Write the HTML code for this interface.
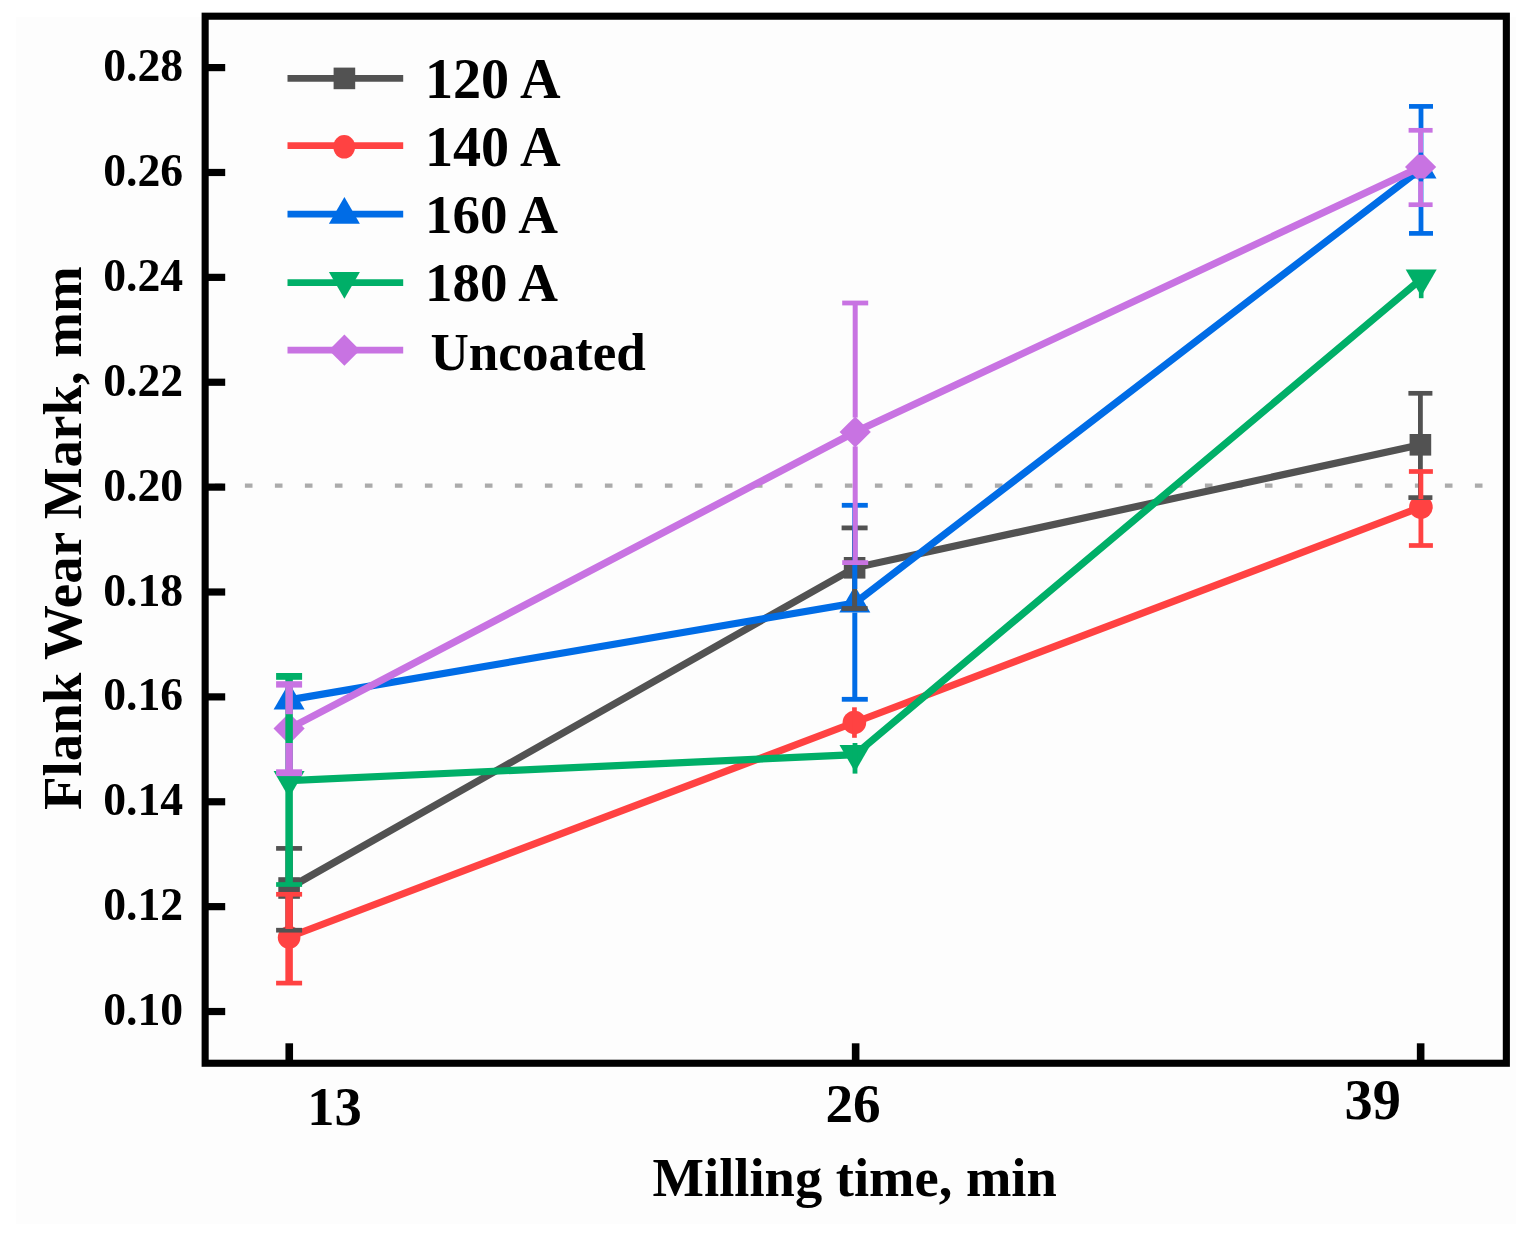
<!DOCTYPE html>
<html><head><meta charset="utf-8"><title>Flank Wear Mark vs Milling time</title>
<style>html,body{margin:0;padding:0;background:#fff;} body{width:1529px;height:1238px;overflow:hidden;} svg{display:block;}</style>
</head><body>
<svg width="1529" height="1238" viewBox="0 0 1529 1238">
<rect x="0" y="0" width="1529" height="1238" fill="#ffffff"/>
<rect x="16" y="17" width="1500" height="1207" fill="#fdfdfd"/>
<line x1="214.9" y1="485.7" x2="1500" y2="485.7" stroke="#ababab" stroke-width="4.3" stroke-dasharray="7.6 22.4"/>
<polyline points="289.10,888.00 854.60,567.80 1420.40,444.80" fill="none" stroke="#525252" stroke-width="7.2" stroke-linejoin="miter"/>
<rect x="278.30" y="877.20" width="21.6" height="21.6" fill="#525252"/>
<rect x="843.80" y="557.00" width="21.6" height="21.6" fill="#525252"/>
<rect x="1409.60" y="434.00" width="21.6" height="21.6" fill="#525252"/>
<polyline points="289.10,937.00 854.40,722.50 1420.90,507.20" fill="none" stroke="#ff4242" stroke-width="7.2" stroke-linejoin="miter"/>
<circle cx="289.10" cy="937.4" r="11.3" fill="#ff4242"/>
<circle cx="854.40" cy="722.50" r="11.8" fill="#ff4242"/>
<circle cx="1420.90" cy="507.20" r="11.8" fill="#ff4242"/>
<polyline points="289.10,699.90 854.80,603.00 1421.00,168.80" fill="none" stroke="#006ce6" stroke-width="7.2" stroke-linejoin="miter"/>
<polygon points="289.10,682.70 304.60,709.50 273.60,709.50" fill="#006ce6"/>
<polygon points="854.80,585.80 870.30,612.60 839.30,612.60" fill="#006ce6"/>
<polygon points="1421.00,151.60 1436.50,178.40 1405.50,178.40" fill="#006ce6"/>
<polyline points="289.10,780.60 855.00,754.70 1421.20,279.00" fill="none" stroke="#00af68" stroke-width="7.2" stroke-linejoin="miter"/>
<polygon points="289.10,797.80 304.60,771.00 273.60,771.00" fill="#00af68"/>
<polygon points="855.00,771.90 870.50,745.10 839.50,745.10" fill="#00af68"/>
<polygon points="1421.20,296.20 1436.70,269.40 1405.70,269.40" fill="#00af68"/>
<polyline points="289.10,728.60 855.20,432.00 1420.60,167.00" fill="none" stroke="#c873e2" stroke-width="7.2" stroke-linejoin="miter"/>
<polygon points="289.10,713.00 304.70,728.60 289.10,744.20 273.50,728.60" fill="#c873e2"/>
<polygon points="855.20,416.40 870.80,432.00 855.20,447.60 839.60,432.00" fill="#c873e2"/>
<polygon points="1420.60,151.40 1436.20,167.00 1420.60,182.60 1405.00,167.00" fill="#c873e2"/>
<rect x="852.1" y="707.3" width="4.7" height="30.5" fill="#ff4242"/>
<rect x="285.35" y="848.40" width="7.5" height="31.60" fill="#525252"/><rect x="276.10" y="846.05" width="26.0" height="4.7" fill="#525252"/><rect x="285.35" y="896.00" width="7.5" height="34.20" fill="#525252"/><rect x="276.10" y="927.85" width="26.0" height="4.7" fill="#525252"/>
<rect x="852.10" y="527.90" width="5.0" height="31.90" fill="#525252"/><rect x="841.60" y="525.50" width="26.0" height="4.8" fill="#525252"/><rect x="852.10" y="575.80" width="5.0" height="32.70" fill="#525252"/><rect x="841.60" y="606.10" width="26.0" height="4.8" fill="#525252"/>
<rect x="1418.00" y="393.30" width="4.8" height="43.50" fill="#525252"/><rect x="1408.40" y="390.95" width="24.0" height="4.7" fill="#525252"/><rect x="1418.00" y="452.80" width="4.8" height="44.80" fill="#525252"/><rect x="1408.40" y="495.25" width="24.0" height="4.7" fill="#525252"/>
<rect x="285.35" y="894.30" width="7.5" height="34.70" fill="#ff4242"/><rect x="276.10" y="891.95" width="26.0" height="4.7" fill="#ff4242"/><rect x="285.35" y="945.00" width="7.5" height="38.10" fill="#ff4242"/><rect x="276.10" y="980.75" width="26.0" height="4.7" fill="#ff4242"/>
<rect x="1418.50" y="471.50" width="4.8" height="27.70" fill="#ff4242"/><rect x="1408.90" y="469.15" width="24.0" height="4.7" fill="#ff4242"/><rect x="1418.50" y="515.20" width="4.8" height="30.30" fill="#ff4242"/><rect x="1408.90" y="543.15" width="24.0" height="4.7" fill="#ff4242"/>
<rect x="852.30" y="505.30" width="5.0" height="83.70" fill="#006ce6"/><rect x="841.80" y="502.90" width="26.0" height="4.8" fill="#006ce6"/><rect x="852.30" y="612.60" width="5.0" height="86.70" fill="#006ce6"/><rect x="841.80" y="696.90" width="26.0" height="4.8" fill="#006ce6"/>
<rect x="1418.60" y="106.40" width="4.8" height="48.40" fill="#006ce6"/><rect x="1409.00" y="104.05" width="24.0" height="4.7" fill="#006ce6"/><rect x="1418.60" y="178.40" width="4.8" height="55.00" fill="#006ce6"/><rect x="1409.00" y="231.05" width="24.0" height="4.7" fill="#006ce6"/>
<rect x="285.35" y="676.40" width="7.5" height="94.60" fill="#00af68"/><rect x="276.10" y="673.00" width="26.0" height="6.8" fill="#00af68"/><rect x="285.35" y="791.10" width="7.5" height="93.40" fill="#00af68"/><rect x="276.10" y="882.15" width="26.0" height="4.7" fill="#00af68"/>
<rect x="852.6" y="743.0" width="4.8" height="30.6" fill="#00af68"/>
<rect x="1418.9" y="285.0" width="4.6" height="13.2" fill="#00af68"/>
<rect x="285.35" y="684.40" width="7.5" height="29.80" fill="#c873e2"/><rect x="276.10" y="681.20" width="26.0" height="6.4" fill="#c873e2"/><rect x="285.35" y="743.00" width="7.5" height="29.70" fill="#c873e2"/><rect x="276.10" y="769.30" width="26.0" height="6.8" fill="#c873e2"/>
<rect x="852.70" y="303.00" width="5.0" height="114.60" fill="#c873e2"/><rect x="842.20" y="300.60" width="26.0" height="4.8" fill="#c873e2"/><rect x="852.70" y="446.40" width="5.0" height="116.20" fill="#c873e2"/><rect x="842.20" y="560.20" width="26.0" height="4.8" fill="#c873e2"/>
<rect x="1418.20" y="130.30" width="4.8" height="22.30" fill="#c873e2"/><rect x="1408.60" y="127.95" width="24.0" height="4.7" fill="#c873e2"/><rect x="1418.20" y="181.40" width="4.8" height="23.30" fill="#c873e2"/><rect x="1408.60" y="202.35" width="24.0" height="4.7" fill="#c873e2"/>
<rect x="205.15" y="16.2" width="1301.2" height="1047.05" fill="none" stroke="#000" stroke-width="7.1"/>
<rect x="206" y="64.00" width="19.2" height="7.2" fill="#000"/>
<rect x="206" y="168.88" width="19.2" height="7.2" fill="#000"/>
<rect x="206" y="273.76" width="19.2" height="7.2" fill="#000"/>
<rect x="206" y="378.64" width="19.2" height="7.2" fill="#000"/>
<rect x="206" y="483.52" width="19.2" height="7.2" fill="#000"/>
<rect x="206" y="588.40" width="19.2" height="7.2" fill="#000"/>
<rect x="206" y="693.28" width="19.2" height="7.2" fill="#000"/>
<rect x="206" y="798.16" width="19.2" height="7.2" fill="#000"/>
<rect x="206" y="903.04" width="19.2" height="7.2" fill="#000"/>
<rect x="206" y="1007.92" width="19.2" height="7.2" fill="#000"/>
<rect x="285.45" y="1043.3" width="7.6" height="18" fill="#000"/>
<rect x="851.85" y="1043.3" width="7.6" height="18" fill="#000"/>
<rect x="1416.85" y="1043.3" width="7.6" height="18" fill="#000"/>
<text x="183.2" y="81.20" font-family="'Liberation Serif', 'Times New Roman', serif" font-weight="bold" font-size="45.7" text-anchor="end">0.28</text>
<text x="183.2" y="186.08" font-family="'Liberation Serif', 'Times New Roman', serif" font-weight="bold" font-size="45.7" text-anchor="end">0.26</text>
<text x="183.2" y="290.96" font-family="'Liberation Serif', 'Times New Roman', serif" font-weight="bold" font-size="45.7" text-anchor="end">0.24</text>
<text x="183.2" y="395.84" font-family="'Liberation Serif', 'Times New Roman', serif" font-weight="bold" font-size="45.7" text-anchor="end">0.22</text>
<text x="183.2" y="500.72" font-family="'Liberation Serif', 'Times New Roman', serif" font-weight="bold" font-size="45.7" text-anchor="end">0.20</text>
<text x="183.2" y="605.60" font-family="'Liberation Serif', 'Times New Roman', serif" font-weight="bold" font-size="45.7" text-anchor="end">0.18</text>
<text x="183.2" y="710.48" font-family="'Liberation Serif', 'Times New Roman', serif" font-weight="bold" font-size="45.7" text-anchor="end">0.16</text>
<text x="183.2" y="815.36" font-family="'Liberation Serif', 'Times New Roman', serif" font-weight="bold" font-size="45.7" text-anchor="end">0.14</text>
<text x="183.2" y="920.24" font-family="'Liberation Serif', 'Times New Roman', serif" font-weight="bold" font-size="45.7" text-anchor="end">0.12</text>
<text x="183.2" y="1025.12" font-family="'Liberation Serif', 'Times New Roman', serif" font-weight="bold" font-size="45.7" text-anchor="end">0.10</text>
<text x="307.3" y="1124.6" font-family="'Liberation Serif', 'Times New Roman', serif" font-weight="bold" font-size="54.5">13</text>
<text x="825.4" y="1122.0" font-family="'Liberation Serif', 'Times New Roman', serif" font-weight="bold" font-size="55.2">26</text>
<text x="1344.6" y="1118.8" font-family="'Liberation Serif', 'Times New Roman', serif" font-weight="bold" font-size="56.4">39</text>
<text x="652.6" y="1196.2" font-family="'Liberation Serif', 'Times New Roman', serif" font-weight="bold" font-size="54.5">Milling time, min</text>
<text transform="translate(81.0 810.0) rotate(-90)" x="0" y="0" font-family="'Liberation Serif', 'Times New Roman', serif" font-weight="bold" font-size="54.9">Flank Wear Mark, mm</text>
<line x1="287.5" y1="78.4" x2="403.2" y2="78.4" stroke="#525252" stroke-width="6.8"/>
<rect x="333.60" y="67.60" width="21.6" height="21.6" fill="#525252"/>
<text x="424.9" y="98.4" font-family="'Liberation Serif', 'Times New Roman', serif" font-weight="bold" font-size="56.2">120 A</text>
<line x1="287.5" y1="145.7" x2="403.2" y2="145.7" stroke="#ff4242" stroke-width="6.8"/>
<ellipse cx="344.2" cy="146.8" rx="10.9" ry="11.8" fill="#ff4242"/>
<text x="424.9" y="165.7" font-family="'Liberation Serif', 'Times New Roman', serif" font-weight="bold" font-size="56.2">140 A</text>
<line x1="287.5" y1="214.2" x2="403.2" y2="214.2" stroke="#006ce6" stroke-width="6.8"/>
<polygon points="344.40,197.00 359.90,223.80 328.90,223.80" fill="#006ce6"/>
<text x="425.0" y="233.3" font-family="'Liberation Serif', 'Times New Roman', serif" font-weight="bold" font-size="55.0">160 A</text>
<line x1="287.5" y1="282.7" x2="403.2" y2="282.7" stroke="#00af68" stroke-width="6.8"/>
<polygon points="344.40,298.70 359.90,271.90 328.90,271.90" fill="#00af68"/>
<text x="425.0" y="301.4" font-family="'Liberation Serif', 'Times New Roman', serif" font-weight="bold" font-size="55.0">180 A</text>
<line x1="287.5" y1="350.2" x2="403.2" y2="350.2" stroke="#c873e2" stroke-width="6.8"/>
<polygon points="344.40,334.60 360.00,350.20 344.40,365.80 328.80,350.20" fill="#c873e2"/>
<text x="430.5" y="369.9" font-family="'Liberation Serif', 'Times New Roman', serif" font-weight="bold" font-size="53.1">Uncoated</text>
</svg>
</body></html>
